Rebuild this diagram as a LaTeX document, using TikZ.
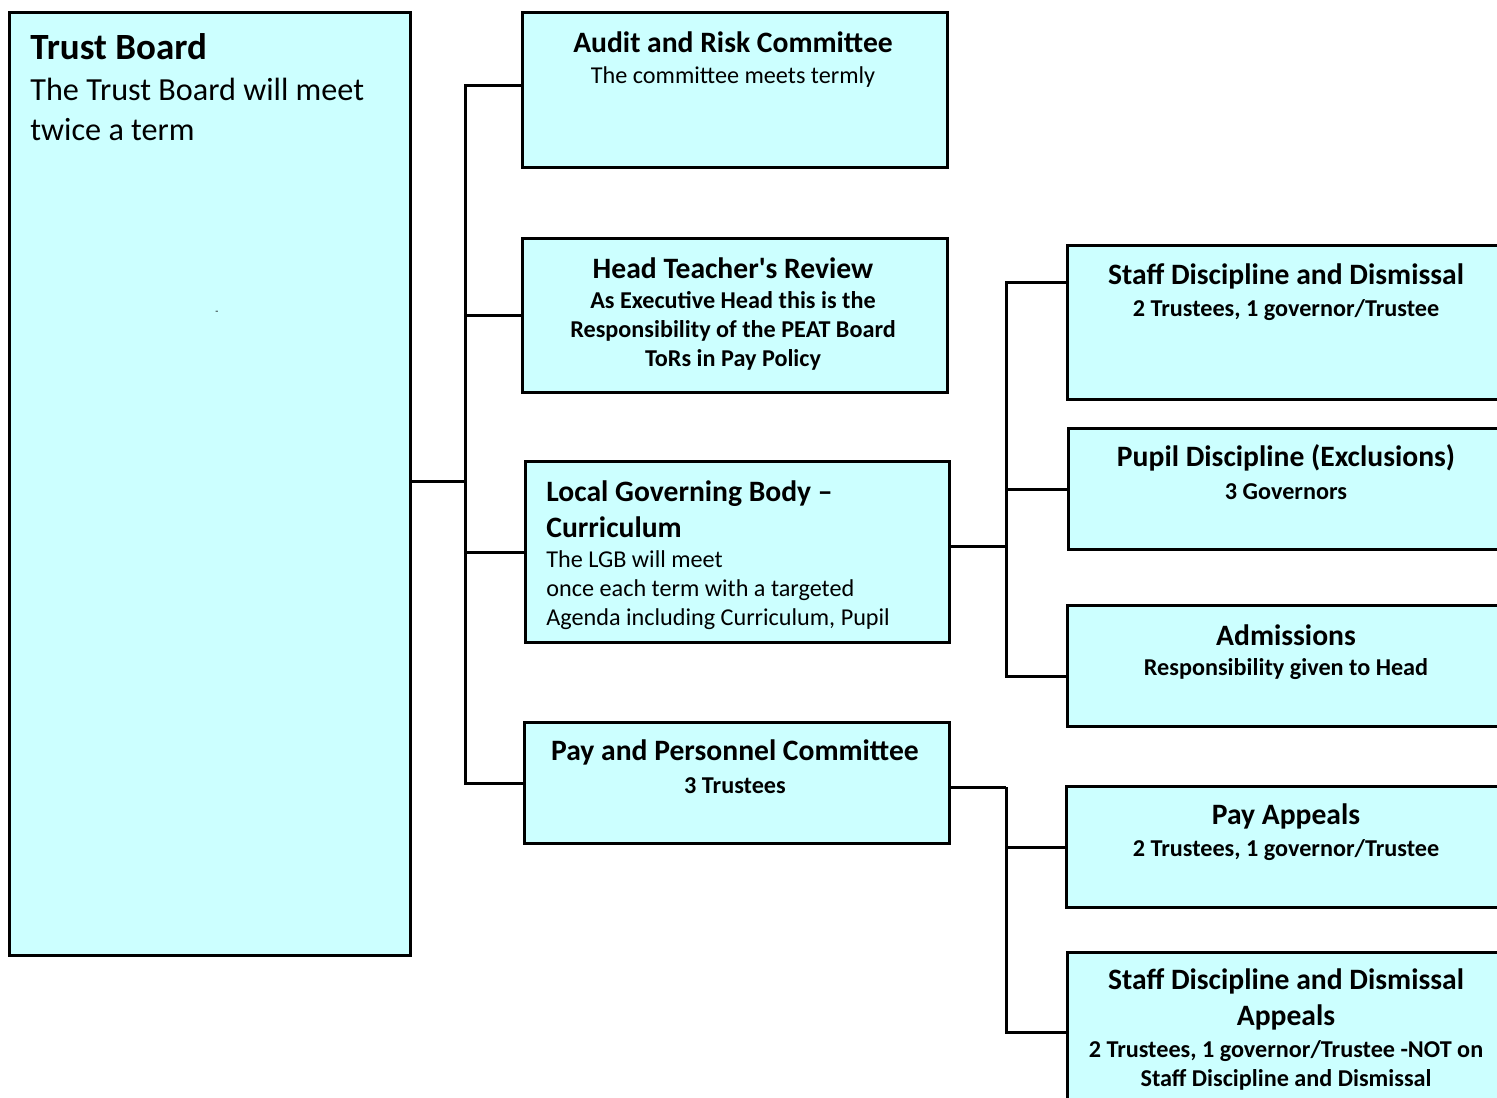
\documentclass[tikz,border=0pt]{standalone}
\usepackage{fontspec}
\setmainfont{Carlito}
\usetikzlibrary{positioning, calc}
\definecolor{boxcyan}{HTML}{CCFFFF}
\newcommand\boxtitle{\bfseries\fontsize{14.8}{18}\selectfont}
\newcommand\boxsub{\fontsize{12.1}{14.5}\selectfont}
\newcommand\boxsubbf{\bfseries\fontsize{12.1}{14.5}\selectfont}

\begin{document}
\begin{tikzpicture}
		[x=0.5pt, y=-0.5pt,
		 box/.style={rectangle, draw, line width=1.5pt, fill=boxcyan, anchor=north west, inner sep=0pt},
		 txt/.style={inner sep=0pt, align=center},
		 link/.style={line width=1.5pt}]
		\useasboundingbox (0,0) rectangle (1497,1097);
		% boxes %
		\node[box, minimum width=200.5pt, minimum height=471.5pt] (trust) at (8,11) {};
		\node[box, minimum width=212.5pt, minimum height=77.5pt] (audit) at (521,11) {};
		\node[box, minimum width=212.5pt, minimum height=77pt] (review) at (521,237) {};
		\node[box, minimum width=212pt, minimum height=90.5pt] (lgb) at (524,460) {};
		\node[box, minimum width=212.5pt, minimum height=60.5pt] (pay) at (523,721) {};
		\node[box, minimum width=220pt, minimum height=77pt] (staff) at (1066,244) {};
		\node[box, minimum width=219.5pt, minimum height=60.5pt] (pupil) at (1067,427) {};
		\node[box, minimum width=220pt, minimum height=60.5pt] (admit) at (1066,604) {};
		\node[box, minimum width=220.5pt, minimum height=60.5pt] (payapp) at (1065,785) {};
		\node[box, minimum width=220pt, minimum height=79.5pt] (appeal) at (1066,951) {};

		% texts %
		\node[txt, anchor=west, font=\bfseries\fontsize{18.5}{22}\selectfont] (trust-t) at (30,47) {Trust Board};
		\node[txt, anchor=west, align=left, font=\fontsize{16.1}{20}\selectfont] (trust-s) at (30,109) {The Trust Board will meet\\twice a term};
		\node[txt, font=\fontsize{5}{6}\selectfont] (trust-d) at (217,313) {-};

		\node[txt, font=\boxtitle] (audit-t) at (733,42) {Audit and Risk Committee};
		\node[txt, font=\boxsub] (audit-s) at (733,77) {The committee meets termly};

		\node[txt, font=\boxtitle] (review-t) at (733,268) {Head Teacher\textquotesingle s Review};
		\node[txt, font=\boxsubbf] (review-s) at (733,331) {As Executive Head this is the\\Responsibility of the PEAT Board\\ToRs in Pay Policy};

		\node[txt, anchor=west, align=left, font=\boxtitle] (lgb-t) at (546,509) {Local Governing Body –\\Curriculum};
		\node[txt, anchor=west, align=left, font=\boxsub] (lgb-s) at (546,590) {The LGB will meet\\once each term with a targeted\\Agenda including Curriculum, Pupil};

		\node[txt, font=\boxtitle] (pay-t) at (735,752) {Pay and Personnel Committee};
		\node[txt, font=\boxsubbf] (pay-s) at (735,786) {3 Trustees};

		\node[txt, font=\boxtitle] (staff-t) at (1286,276) {Staff Discipline and Dismissal};
		\node[txt, font=\boxsubbf] (staff-s) at (1286,310) {2 Trustees, 1 governor/Trustee};

		\node[txt, font=\boxtitle] (pupil-t) at (1286,458) {Pupil Discipline (Exclusions)};
		\node[txt, font=\boxsubbf] (pupil-s) at (1286,492) {3 Governors};

		\node[txt, font=\boxtitle] (admit-t) at (1286,635) {Admissions};
		\node[txt, font=\boxsubbf] (admit-s) at (1286,669) {Responsibility given to Head};

		\node[txt, font=\boxtitle] (payapp-t) at (1286,816) {Pay Appeals};
		\node[txt, font=\boxsubbf] (payapp-s) at (1286,850) {2 Trustees, 1 governor/Trustee};

		\node[txt, font=\boxtitle] (appeal-t) at (1286,999) {Staff Discipline and Dismissal\\Appeals};
		\node[txt, font=\boxsubbf] (appeal-s) at (1286,1065) {2 Trustees, 1 governor/Trustee -NOT on\\Staff Discipline and Dismissal};

		% edges %
		\coordinate (bus1) at (465,481);
		\coordinate (bus2) at (1006,546);
		\coordinate (bus3) at (1006,787);
		\draw[link] (trust.east |- bus1) -- (bus1);
		\draw[link] (bus1) |- ([yshift=2pt]audit.west);
		\draw[link] (bus1) |- (review.west);
		\draw[link] (bus1) |- (lgb.west);
		\draw[link] (bus1) |- (pay.west);
		\draw[link] (lgb.east |- bus2) -- (bus2);
		\draw[link] (bus2) |- ([yshift=20pt]staff.west);
		\draw[link] (bus2) |- (pupil.west);
		\draw[link] (bus2) |- ([yshift=-5pt]admit.west);
		\draw[link] (pay.east |- bus3) -- (bus3);
		\draw[link] (bus3) |- (payapp.west);
		\draw[link] (bus3) |- (appeal.west);
		\end{tikzpicture}
\end{document}
